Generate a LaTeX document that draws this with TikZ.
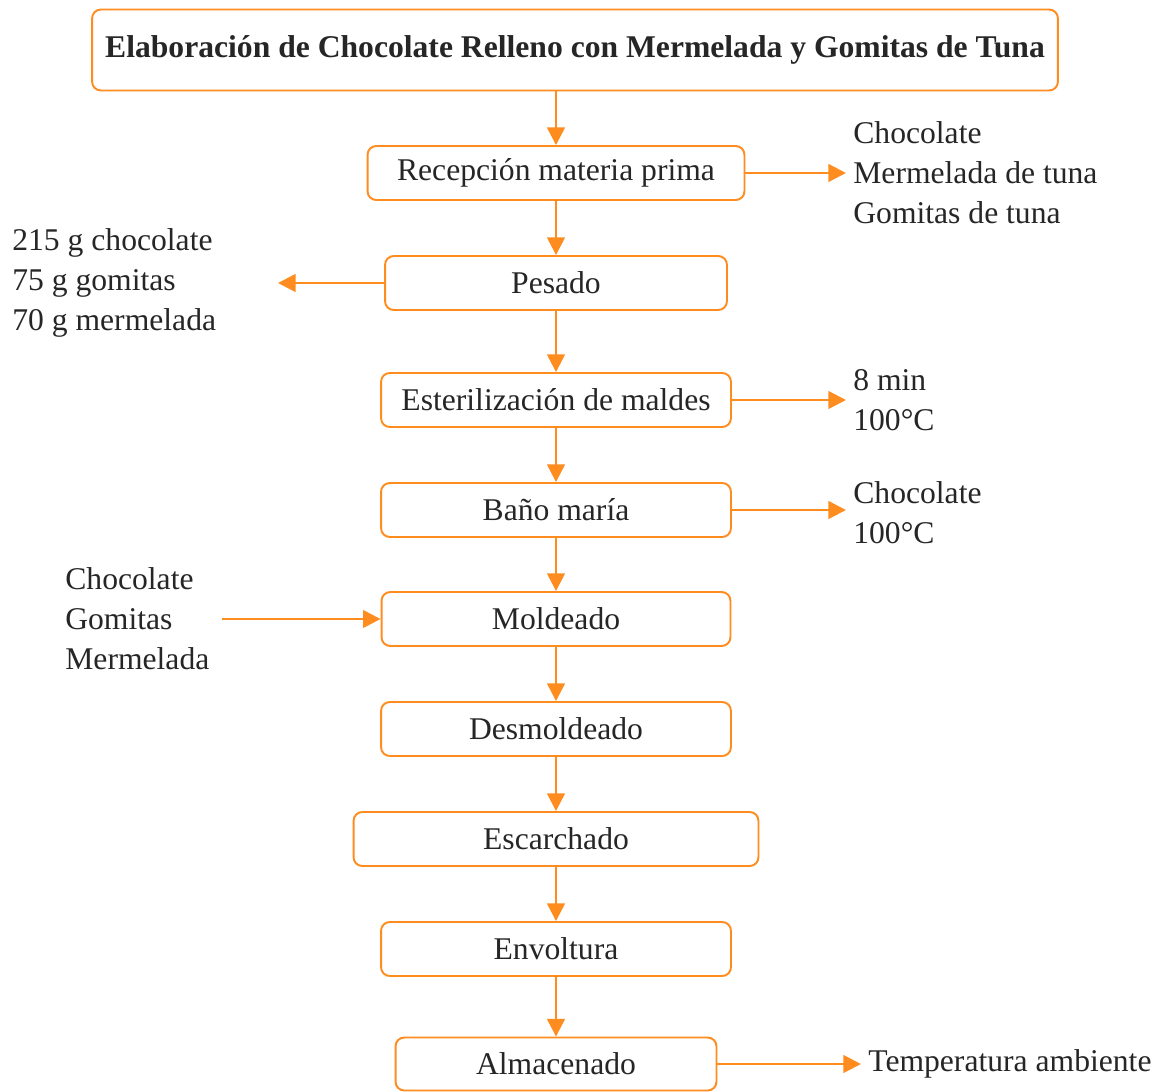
\documentclass[tikz,border=0pt]{standalone}
\usepackage{fontspec}
\setmainfont{Liberation Serif}
\usepackage{tikz}
\usetikzlibrary{positioning}
\usetikzlibrary{arrows.meta}
\definecolor{naranja}{RGB}{255,140,30}

\begin{document}
\begin{tikzpicture}[x=0.02cm,y=-0.02cm,
		paso/.style={draw=naranja,line width=1.1pt,rounded corners=5pt,fill=white,minimum height=1.08cm,font=\fontsize{18}{22.8}\selectfont,text=black!85},
		nota/.style={align=left,inner sep=0pt,font=\fontsize{18}{22.8}\selectfont,text=black!85},
		flecha/.style={draw=naranja,line width=1.4pt,-{Triangle[length=10pt,width=10pt]}}]
	\useasboundingbox (0,0) rectangle (1157,1092);
	\node[paso,minimum width=19.32cm,minimum height=1.62cm,font=\fontsize{18}{22.8}\selectfont\bfseries] (tit) at (575,50) {Elaboración de Chocolate Relleno con Mermelada y Gomitas de Tuna};
	\node[paso,minimum width=7.54cm] (rec) at (556,173) {Recepción materia prima};
	\node[paso,minimum width=6.84cm] (pes) at (556,283) {Pesado};
	\node[paso,minimum width=7cm] (est) at (556,400) {Esterilización de maldes};
	\node[paso,minimum width=7cm] (bano) at (556,510) {Baño maría};
	\node[paso,minimum width=6.98cm] (mol) at (556,619) {Moldeado};
	\node[paso,minimum width=7cm] (desm) at (556,729) {Desmoldeado};
	\node[paso,minimum width=8.1cm] (esc) at (556,839) {Escarchado};
	\node[paso,minimum width=7cm] (env) at (556,949) {Envoltura};
	\node[paso,minimum width=6.42cm,minimum height=1.06cm] (alm) at (556,1064) {Almacenado};
	% entradas y salidas
	\node[nota,anchor=west] (recmp) at (853,173) {Chocolate\\Mermelada de tuna\\Gomitas de tuna};
	\node[nota,anchor=west] (pesg) at (12,283) {215 g chocolate\\75 g gomitas\\70 g mermelada};
	\node[nota,anchor=west] (estc) at (853,400) {8 min\\100°C};
	\node[nota,anchor=west] (banoc) at (853,513) {Chocolate\\100°C};
	\node[nota,anchor=west] (molin) at (65,619) {Chocolate\\Gomitas\\Mermelada};
	\node[nota,anchor=west] (almt) at (868,1064) {Temperatura ambiente};
	\coordinate (pesf) at (278,283);
	\coordinate (molf) at (222,619);
	% flujo principal
	\draw[flecha] (rec |- tit.south) -- (rec);
	\draw[flecha] (rec) -- (pes);
	\draw[flecha] (pes) -- (est);
	\draw[flecha] (est) -- (bano);
	\draw[flecha] (bano) -- (mol);
	\draw[flecha] (mol) -- (desm);
	\draw[flecha] (desm) -- (esc);
	\draw[flecha] (esc) -- (env);
	\draw[flecha] (env) -- (alm);
	% flechas laterales
	\draw[flecha,shorten >=4pt] (rec) -- (recmp);
	\draw[flecha] (pes) -- (pesf);
	\draw[flecha,shorten >=4pt] (est.east) -- (est.east -| estc.west);
	\draw[flecha,shorten >=4pt] (bano.east) -- (bano.east -| banoc.west);
	\draw[flecha] (molf) -- (mol);
	\draw[flecha,shorten >=4pt] (alm.east) -- (alm.east -| almt.west);
\end{tikzpicture}
\end{document}
